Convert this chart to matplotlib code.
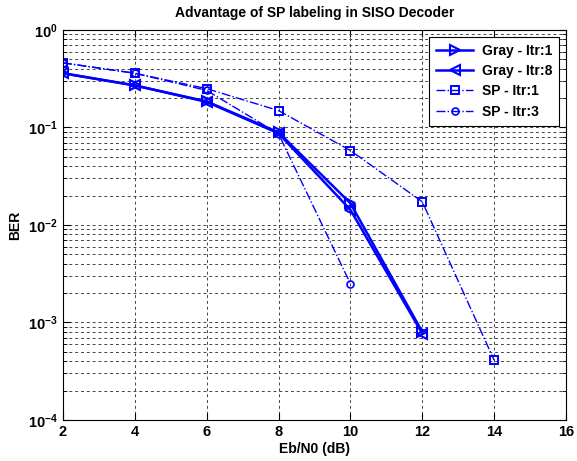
import numpy as np
import matplotlib
matplotlib.use("Agg")
import matplotlib.pyplot as plt
from matplotlib.ticker import FixedLocator, LogLocator, NullFormatter, FuncFormatter

plt.rcParams['font.family'] = ['Liberation Sans', 'DejaVu Sans']
plt.rcParams['font.weight'] = 'bold'
plt.rcParams['mathtext.fontset'] = 'custom'
plt.rcParams['mathtext.rm'] = 'Liberation Sans:bold'
plt.rcParams['mathtext.bf'] = 'Liberation Sans:bold'

#######################################################
EBN0 = [2, 4, 6, 8, 10, 12, 14]
GRAY_ITR1 = [0.36, 0.27, 0.185, 0.089, 0.0167, 0.00080]
GRAY_ITR8 = [0.36, 0.27, 0.183, 0.087, 0.0143, 0.00077]
SP_ITR1 = [0.46, 0.36, 0.25, 0.149, 0.058, 0.0173, 0.00041]
SP_ITR3 = [0.46, 0.36, 0.24, 0.086, 0.0025]
LABELS = ['Gray - Itr:1', 'Gray - Itr:8', 'SP - Itr:1', 'SP - Itr:3']
#########################################################

BLUE = '#0000ff'

fig = plt.figure(figsize=(5.77, 4.61), dpi=100)
ax = fig.add_axes([0.109, 0.089, 0.872, 0.846])

ax.semilogy(EBN0[:len(GRAY_ITR1)], GRAY_ITR1, '-', color=BLUE, lw=1.8,
            marker='>', ms=6.5, mfc='none', mew=1.5, label=LABELS[0])
ax.semilogy(EBN0[:len(GRAY_ITR8)], GRAY_ITR8, '-', color=BLUE, lw=1.8,
            marker='<', ms=6.5, mfc='none', mew=1.5, label=LABELS[1])
ax.semilogy(EBN0[:len(SP_ITR1)], SP_ITR1, '-.', color=BLUE, lw=1.0,
            marker='s', ms=6, mfc='none', mew=1.4, label=LABELS[2])
ax.semilogy(EBN0[:len(SP_ITR3)], SP_ITR3, '-.', color=BLUE, lw=1.0,
            marker='o', ms=5, mfc='none', mew=1.2, label=LABELS[3])

ax.set_xlim(2, 16)
ax.set_ylim(1e-4, 1)
ax.xaxis.set_major_locator(FixedLocator([2, 4, 6, 8, 10, 12, 14, 16]))
ax.yaxis.set_major_locator(LogLocator(base=10, numticks=10))
ax.yaxis.set_minor_locator(LogLocator(base=10, subs=np.arange(2, 10), numticks=10))
ax.yaxis.set_minor_formatter(NullFormatter())
ax.yaxis.set_major_formatter(FuncFormatter(lambda v, p: r'$\mathbf{10^{%d}}$' % round(np.log10(v))))

ax.grid(True, which='major', linestyle=(0, (3, 3)), color='#444444', lw=0.7)
ax.grid(True, which='minor', axis='y', linestyle=(0, (3, 3)), color='#444444', lw=0.7)
ax.tick_params(which='both', direction='in', top=True, right=True, labelsize=10.5)
ax.tick_params(which='major', length=5)
ax.tick_params(which='minor', length=3)
for lab in ax.get_xticklabels():
    lab.set_fontweight('bold')

ax.set_xlabel('Eb/N0 (dB)', fontsize=10, fontweight='bold', labelpad=2)
ax.set_ylabel('BER', fontsize=10, fontweight='bold', labelpad=4)
ax.set_title('Advantage of SP labeling in SISO Decoder', fontsize=10, fontweight='bold', pad=9)

leg = ax.legend(loc='upper right', frameon=True, fancybox=False,
                edgecolor='black', framealpha=1, handlelength=2.7,
                borderaxespad=0.5, labelspacing=0.45, borderpad=0.5,
                handletextpad=0.6, prop={'weight': 'bold', 'size': 10})
leg.get_frame().set_linewidth(0.8)

fig.savefig('out.png', dpi=100)
